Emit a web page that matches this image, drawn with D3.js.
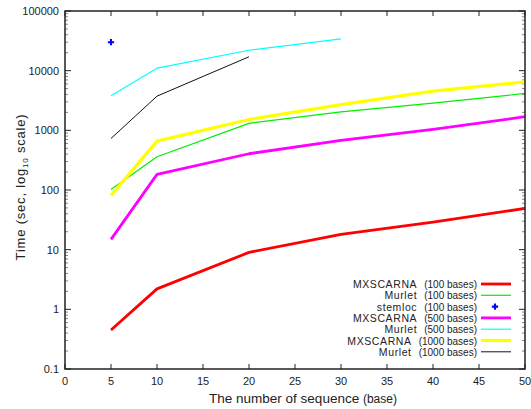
<!DOCTYPE html>
<html>
<head>
<script src="https://cdnjs.cloudflare.com/ajax/libs/d3/7.8.5/d3.min.js"></script>
<style>
  body { margin: 0; background: #fff; }
  text { font-family: "Liberation Sans", Arial, sans-serif; fill: #222; }
</style>
</head>
<body>
<div id="chart"></div>
<script>
// x values (number of sequences) and measured times in seconds
const xFull = [5, 10, 20, 30, 40, 50];
const mxscarna100 = [0.45, 2.2, 9.0, 18, 29, 49];
const murlet100 = [102, 360, 1310, 2040, 2860, 4150];
const xStem = [5];
const stemloc100 = [30000];
const mxscarna500 = [14.9, 183, 405, 680, 1035, 1690];
const xMurlet500 = [5, 10, 20, 30];
const murlet500 = [3800, 11000, 22000, 34000];
const mxscarna1000 = [81, 660, 1520, 2700, 4550, 6500];
const xMurlet1000 = [5, 10, 20];
const murlet1000 = [730, 3740, 17100];

const xTicks = [0, 5, 10, 15, 20, 25, 30, 35, 40, 45, 50];
const yTicks = [0.1, 1, 10, 100, 1000, 10000, 100000];

const series = [
  { name: "MXSCARNA", size: "(100 bases)", xs: xFull, ys: mxscarna100, color: "#ff0000", w: 2.8 },
  { name: "Murlet", size: "(100 bases)", xs: xFull, ys: murlet100, color: "#00ee00", w: 1.2 },
  { name: "stemloc", size: "(100 bases)", xs: xStem, ys: stemloc100, color: "#0000ff", point: true },
  { name: "MXSCARNA", size: "(500 bases)", xs: xFull, ys: mxscarna500, color: "#ff00ff", w: 2.8 },
  { name: "Murlet", size: "(500 bases)", xs: xMurlet500, ys: murlet500, color: "#00ffff", w: 1.2 },
  { name: "MXSCARNA", size: "(1000 bases)", xs: xFull, ys: mxscarna1000, color: "#ffff00", w: 3.2 },
  { name: "Murlet", size: "(1000 bases)", xs: xMurlet1000, ys: murlet1000, color: "#111111", w: 1 }
];

const W = 531, H = 409;
const m = { top: 11, right: 6, bottom: 40, left: 65 };

const svg = d3.select("#chart").append("svg")
  .attr("width", W).attr("height", H);

const x = d3.scaleLinear().domain([0, 50]).range([m.left, W - m.right]);
const y = d3.scaleLog().domain([0.1, 100000]).range([H - m.bottom, m.top]);

// minor ticks on log axis (2..9 in each decade)
const minor = [];
for (let e = -1; e < 5; e++) {
  for (let k = 2; k <= 9; k++) minor.push(k * Math.pow(10, e));
}

const g = svg.append("g");

// x ticks, bottom and top, pointing inward
xTicks.forEach(t => {
  g.append("line").attr("x1", x(t)).attr("x2", x(t))
    .attr("y1", H - m.bottom).attr("y2", H - m.bottom - 5).attr("stroke", "#222");
  g.append("line").attr("x1", x(t)).attr("x2", x(t))
    .attr("y1", m.top).attr("y2", m.top + 5).attr("stroke", "#222");
});

// y ticks, left and right
yTicks.forEach(t => {
  g.append("line").attr("x1", m.left).attr("x2", m.left + 6)
    .attr("y1", y(t)).attr("y2", y(t)).attr("stroke", "#222");
  g.append("line").attr("x1", W - m.right).attr("x2", W - m.right - 6)
    .attr("y1", y(t)).attr("y2", y(t)).attr("stroke", "#222");
});
minor.forEach(t => {
  g.append("line").attr("x1", m.left).attr("x2", m.left + 3)
    .attr("y1", y(t)).attr("y2", y(t)).attr("stroke", "#666").attr("stroke-width", 0.8);
  g.append("line").attr("x1", W - m.right).attr("x2", W - m.right - 3)
    .attr("y1", y(t)).attr("y2", y(t)).attr("stroke", "#666").attr("stroke-width", 0.8);
});

// tick labels
g.selectAll(".xl").data(xTicks).enter().append("text")
  .attr("x", d => x(d)).attr("y", H - m.bottom + 16)
  .attr("text-anchor", "middle").attr("font-size", 11)
  .text(d => d);

g.selectAll(".yl").data(yTicks).enter().append("text")
  .attr("x", m.left - 6).attr("y", d => y(d) + 4)
  .attr("text-anchor", "end").attr("font-size", 11)
  .text(d => d);

// series lines
const line = d3.line().x(d => x(d[0])).y(d => y(d[1]));
series.forEach(s => {
  const pts = s.xs.map((v, i) => [v, s.ys[i]]);
  if (s.point) {
    svg.selectAll(null).data(pts).enter().append("path")
      .attr("d", d3.symbol(d3.symbolCross, 22))
      .attr("transform", d => `translate(${x(d[0])},${y(d[1])})`)
      .attr("fill", s.color);
  } else {
    svg.append("path").datum(pts)
      .attr("d", line)
      .attr("fill", "none")
      .attr("stroke", s.color)
      .attr("stroke-width", s.w)
      .attr("stroke-linejoin", "round");
  }
});

// frame
svg.append("rect")
  .attr("x", m.left).attr("y", m.top)
  .attr("width", W - m.left - m.right).attr("height", H - m.top - m.bottom)
  .attr("fill", "none").attr("stroke", "#222").attr("stroke-width", 1.5);

// legend
const leg = svg.append("g");
series.forEach((s, i) => {
  const ly = 284 + i * 11.3;
  const t = leg.append("text").attr("x", 477).attr("y", ly + 4)
    .attr("text-anchor", "end");
  t.append("tspan").attr("font-size", 10.5).attr("letter-spacing", 0.6).text(s.name);
  t.append("tspan").attr("dx", 7).attr("font-size", 10).text(s.size);
  if (s.point) {
    leg.append("path").attr("d", d3.symbol(d3.symbolCross, 22))
      .attr("transform", `translate(495,${ly})`).attr("fill", s.color);
  } else {
    leg.append("line").attr("x1", 481).attr("x2", 511)
      .attr("y1", ly).attr("y2", ly)
      .attr("stroke", s.color).attr("stroke-width", s.w);
  }
});

// axis titles
const xt = svg.append("text").attr("x", 303).attr("y", 403)
  .attr("text-anchor", "middle").attr("font-size", 13.5);
xt.append("tspan").text("The number of sequence ");
xt.append("tspan").attr("font-size", 12).text("(base)");

const yt = svg.append("text")
  .attr("transform", "translate(25,187) rotate(-90)")
  .attr("text-anchor", "middle").attr("font-size", 13).attr("letter-spacing", 0.8);
yt.append("tspan").text("Time (sec, log");
yt.append("tspan").attr("font-size", 8).attr("dy", 3).text("10");
yt.append("tspan").attr("dy", -3).text(" scale)");
</script>
</body>
</html>
